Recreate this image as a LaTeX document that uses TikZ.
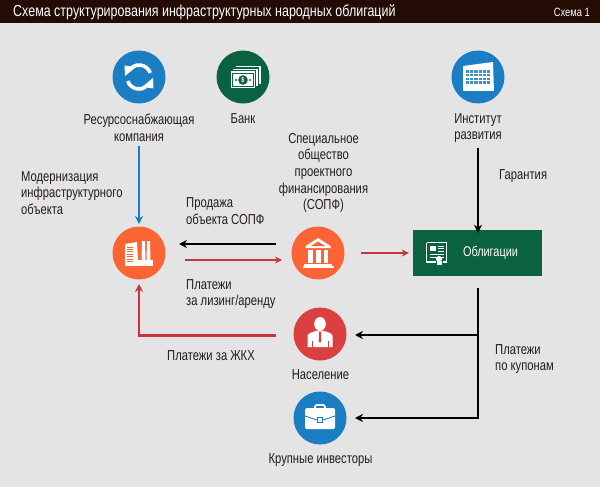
\documentclass[tikz,border=0pt]{standalone}
\usepackage{fontspec}
\setmainfont[FakeStretch=0.78]{Liberation Sans}
\usetikzlibrary{arrows.meta}
\definecolor{bgc}{HTML}{E4E4E4}
\definecolor{barc}{HTML}{240C04}
\definecolor{bluec}{HTML}{1B7DC2}
\definecolor{greenc}{HTML}{0A6240}
\definecolor{orangec}{HTML}{FB6536}
\definecolor{redc}{HTML}{DA4040}
\definecolor{linered}{HTML}{C8353A}
\definecolor{txt}{HTML}{241C18}
\tikzset{
  circ/.style={circle,minimum size=53pt,inner sep=0pt,fill=#1},
  lab/.style={font=\fontsize{14.4}{16.6}\selectfont,text=txt,align=center,inner sep=0pt},
  labl/.style={lab,align=left,anchor=west},
  conn/.style={line width=2.3pt,-{Stealth[length=8pt,width=8pt]}},
  thinconn/.style={line width=1.7pt,-{Stealth[length=7pt,width=7pt]}},
}
\begin{document}
\begin{tikzpicture}[x=1pt,y=-1pt]
\useasboundingbox (0,0) rectangle (600,487);
\fill[bgc] (0,0) rectangle (600,487);
\fill[barc] (0,0) rectangle (600,23);
\node[anchor=west,inner sep=0pt,text=white,font=\fontsize{16}{18}\selectfont] (title) at (13,12) {Схема структурирования инфраструктурных народных облигаций};
\node[anchor=east,inner sep=0pt,text=white,font=\fontsize{12}{14}\selectfont] (num) at (590,12.5) {Схема 1};

\node[circ=bluec] (res) at (139,77) {};
\node[circ=greenc] (bank) at (243,77) {};
\node[circ=bluec] (inst) at (478,77) {};
\node[circ=orangec] (fac) at (139,253) {};
\node[circ=orangec] (sopf) at (318,253) {};
\node[circ=redc] (pop) at (320,334) {};
\node[circ=bluec] (inv) at (320,418) {};
\node[fill=greenc,minimum width=129pt,minimum height=46pt,inner sep=0pt] (bond) at (477.5,253) {};

% icons
\begin{scope}[shift={(139,77)}]
\draw[white,line width=3.6pt,y=1pt] (0,0) ++(20:12) arc (20:125:12);
\draw[white,line width=3.6pt,y=1pt] (0,0) ++(200:12) arc (200:305:12);
\fill[white] (-14.5,-11.5) -- (-3,-10) -- (-14,-1) -- cycle;
\fill[white] (14.5,11.5) -- (3,10) -- (14,1) -- cycle;
\end{scope}
\begin{scope}[shift={(243,77)}]
\fill[white] (-7,-11) rectangle (18,7);
\fill[greenc] (-9,-9.5) rectangle (15.5,9);
\fill[white] (-10,-8) rectangle (15,9.5);
\fill[greenc] (-12,-6.5) rectangle (13,11);
\fill[white] (-12.5,-5.5) rectangle (12,11.5);
\draw[greenc,line width=.5pt] (-10.5,-3.5) rectangle (10,9.5);
\fill[greenc] (0,3) circle (4.8);
\node[text=white,font=\fontsize{7}{7}\selectfont\bfseries,inner sep=0pt] (dollar) at (0,3) {\$};
\fill[greenc] (-7,3) circle (1.2);
\fill[greenc] (7,3) circle (1.2);
\end{scope}
\begin{scope}[shift={(478,77)}]
\fill[white] (-15,-11) -- (15,-15) -- (16,14) -- (-15,14) -- cycle;
\foreach \i in {0,...,5} \foreach \j in {0,...,3}
  \fill[bluec!85] (-12+\i*4.2,-6.5+\j*3.6) rectangle +(3.2,2.4);
\end{scope}
\begin{scope}[shift={(139,253)}]
\fill[white] (-14,-9) -- (-2,-11) -- (-1,8) -- (-14,13) -- cycle;
\fill[white] (-14,7) rectangle (14,13);
\fill[white] (3,-12) -- (6,-12) -- (6.5,8) -- (2.5,8) -- cycle;
\fill[white] (8,-12) -- (11,-12) -- (11.5,8) -- (7.5,8) -- cycle;
\foreach \j in {0,...,6} \draw[orangec,line width=.7pt] (-12,-6+\j*2.4) -- (-6,-6+\j*2.4);
\end{scope}
\begin{scope}[shift={(318,253)}]
\fill[white] (-12.5,-7) -- (0,-15) -- (12.5,-7) -- (12.5,-5) -- (-12.5,-5) -- cycle;
\fill[orangec] (-7,-7) -- (0,-11.5) -- (7,-7) -- cycle;
\foreach \x in {-10,-2.2,5.5} \fill[white] (\x,-3.5) rectangle +(4.7,13);
\fill[white] (-14,10.5) rectangle (14,12.5);
\fill[white] (-15.5,13) rectangle (15.5,14.5);
\end{scope}
\begin{scope}[shift={(320,334)}]
\fill[white] (0,-10) ellipse (5.8 and 7);
\fill[white] (-12.5,13) -- (-12.5,2) .. controls (-12.5,-1) and (-7,-2) .. (-4,-3) -- (4,-3) .. controls (7,-2) and (12.5,-1) .. (12.5,2) -- (12.5,13) -- cycle;
\fill[redc] (-1,-2.5) -- (1,-2.5) -- (1.3,7) -- (0,9) -- (-1.3,7) -- cycle;
\draw[redc,line width=.4pt] (-8,7) -- (-8,13);
\draw[redc,line width=.4pt] (8,7) -- (8,13);
\end{scope}
\begin{scope}[shift={(320,418)}]
\draw[white,line width=1.6pt,rounded corners=1.5pt] (-5,-10) -- (-5,-13) -- (5,-13) -- (5,-10);
\fill[white,rounded corners=1.5pt] (-15,-10) rectangle (15,11);
\draw[bluec,line width=.8pt] (-15,-2) -- (-3,2);
\draw[bluec,line width=.8pt] (15,-2) -- (3,2);
\draw[bluec,line width=.8pt,fill=white] (-2.5,-.5) rectangle (2.5,4);
\end{scope}
\begin{scope}[shift={(477.5,253)}]
\draw[white,line width=1.3pt] (-51,-10.5) -- (-31,-10.5) -- (-31,9) -- (-35,9);
\draw[white,line width=1.3pt] (-51,-10.5) -- (-51,9) -- (-42,9);
\fill[white] (-48,-7.5) rectangle (-42,-2.5);
\foreach \y in {-7,-4.5,-2} \draw[white,line width=.9pt] (-40,\y) -- (-34,\y);
\draw[white,line width=.9pt] (-48,1.5) -- (-34,1.5);
\draw[white,line width=.9pt] (-48,4.5) -- (-34,4.5);
\fill[white] (-38.5,6) circle (3);
\fill[white] (-41,8) rectangle (-36,12);
\end{scope}

% labels
\node[lab] (tres) at (139,128) {Ресурсоснабжающая\\компания};
\node[lab] (tbank) at (243,119) {Банк};
\node[lab] (tinst) at (478,128) {Институт\\развития};
\node[lab,align=center] (tsopf) at (323.5,173) {Специальное\\общество\\проектного\\финансирования\\(СОПФ)};
\node[labl] (tmod) at (21,193) {Модернизация\\инфраструктурного\\объекта};
\node[labl] (tsale) at (186,211) {Продажа\\объекта СОПФ};
\node[labl] (tlease) at (186,294) {Платежи\\за лизинг/аренду};
\node[labl] (tgar) at (499,176) {Гарантия};
\node[labl] (tzkh) at (167,356) {Платежи за ЖКХ};
\node[labl] (tcoup) at (495,359) {Платежи\\по купонам};
\node[lab] (tpop) at (320.5,375) {Население};
\node[lab] (tinv) at (320.5,460) {Крупные инвесторы};
\node[inner sep=0pt,anchor=center,text=white,font=\fontsize{14}{16}\selectfont] (tbond) at (490.5,253) {Облигации};

% connectors
\coordinate (a1) at (139,146); \coordinate (a2) at (139,224);
\draw[conn,bluec] (a1) -- (a2);
\coordinate (b1) at (276,244); \coordinate (b2) at (179,244);
\draw[conn,black] (b1) -- (b2);
\coordinate (c1) at (185,260); \coordinate (c2) at (282,260);
\draw[thinconn,linered] (c1) -- (c2);
\coordinate (d1) at (361,253);
\draw[thinconn,linered] (d1) -- ([xshift=-4pt]bond.west);
\coordinate (e1) at (478,148);
\draw[conn,black] (e1) -- ([yshift=-3pt]bond.north -| e1);
\coordinate (f1) at (276,335.5); \coordinate (f2) at (139,335.5); \coordinate (f3) at (139,284);
\draw[conn,linered] (f1) -- (f2) -- (f3);
\coordinate (g1) at (478,288); \coordinate (g2) at (478,335); \coordinate (g3) at (478,418);
\coordinate (g4) at (355,335); \coordinate (g5) at (355,418);
\draw[conn,black] (g1) -- (g3) -- (g5);
\draw[conn,black] (g2) -- (g4);
\end{tikzpicture}
\end{document}
